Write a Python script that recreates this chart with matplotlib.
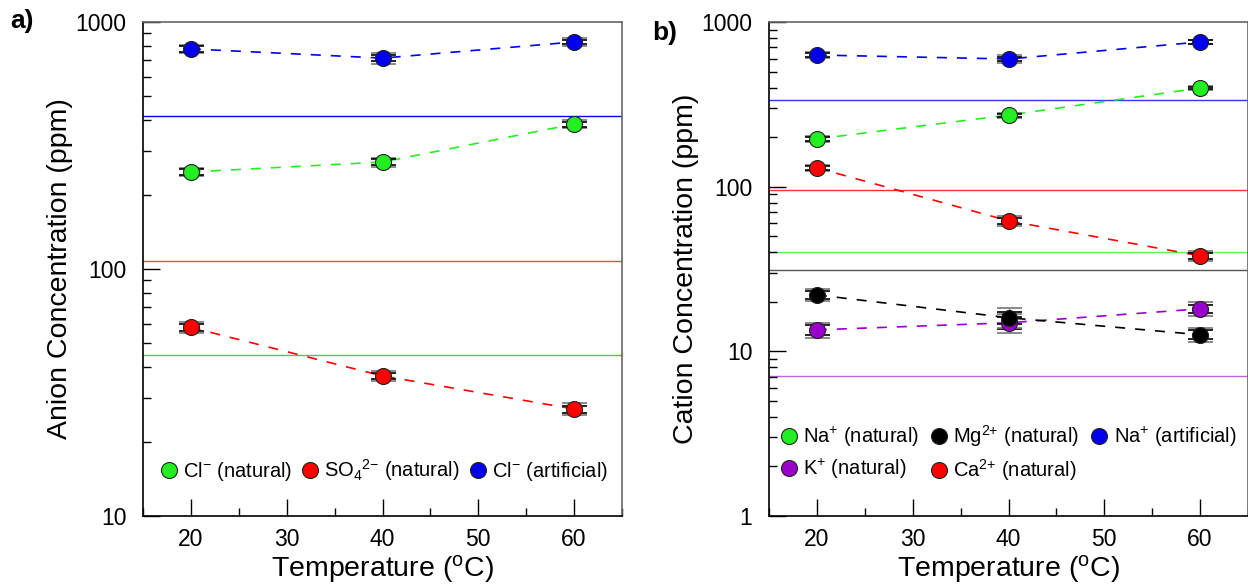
import matplotlib.pyplot as plt
from matplotlib.ticker import LogLocator, NullFormatter, MultipleLocator, FixedLocator

plt.rcParams['font.family'] = ['Liberation Sans', 'DejaVu Sans']
plt.rcParams['mathtext.fontset'] = 'custom'
plt.rcParams['mathtext.rm'] = 'Liberation Sans'
plt.rcParams['mathtext.it'] = 'Liberation Sans'
plt.rcParams['mathtext.default'] = 'rm'

temps = [20, 40, 60]

# panel a - anions
cl_nat = [247, 271, 386]
cl_nat_err = [6, 7, 9]
so4_nat = [58, 36.9, 27.1]
so4_nat_err = [1.8, 1.0, 0.9]
cl_art = [778, 714, 830]
cl_art_err = [20, 22, 18]
ref_a = [416, 108, 45]   # blue, red, green reference lines

# panel b - cations
na_nat = [195, 272, 397]
na_nat_err = [5, 6, 8]
k_nat = [13.5, 14.9, 18.1]
k_nat_err = [0.9, 1.2, 1.1]
mg_nat = [22, 16, 12.6]
mg_nat_err = [1.2, 1.4, 0.8]
ca_nat = [130, 62, 38]
ca_nat_err = [3.5, 2.5, 1.5]
na_art = [630, 596, 756]
na_art_err = [18, 20, 16]
ref_b = [336, 95.5, 40, 31.2, 7.1]  # blue, red, green, black, purple

GREEN = '#22ee22'
RED = '#ff0000'
BLUE = '#0000ee'
BLACK = '#000000'
PURPLE = '#9900cc'

fig = plt.figure(figsize=(12.48, 5.86), dpi=100)
ax1 = fig.add_axes([0.1146, 0.1195, 0.3838, 0.843])
ax2 = fig.add_axes([0.6162, 0.1195, 0.3838, 0.843])


def series(ax, y, err, color, label):
    ax.errorbar(temps, y, yerr=[e * 1.6 for e in err], fmt='none', ecolor='#777777',
                elinewidth=1, capsize=9, capthick=1.2, zorder=3)
    ax.errorbar(temps, y, yerr=err, fmt='none', ecolor='black',
                elinewidth=1, capsize=9, capthick=1.2, zorder=3)
    ax.plot(temps, y, ls=(0, (6, 6)), color=color, lw=1.2, zorder=2)
    ax.plot(temps, y, 'o', ms=11.5, mfc=color, mec='#222222', mew=0.8,
            ls='none', label=label, zorder=4)


def style(ax, ymin):
    ax.set_yscale('log')
    ax.set_ylim(ymin, 1000)
    ax.set_xlim(15, 65)
    ax.xaxis.set_major_locator(FixedLocator([20, 30, 40, 50, 60]))
    ax.xaxis.set_minor_locator(MultipleLocator(5))
    ax.yaxis.set_major_locator(LogLocator(base=10, numticks=10))
    ax.yaxis.set_minor_locator(LogLocator(base=10, subs=range(2, 10), numticks=10))
    ax.yaxis.set_minor_formatter(NullFormatter())
    ax.tick_params(which='major', direction='in', length=12, width=1, labelsize=16.5, pad=9,
                   top=False, right=False)
    ax.tick_params(which='minor', direction='in', length=6, width=1, top=False, right=False)
    ax.tick_params(axis='y', pad=12)
    for s in ['top', 'right']:
        ax.spines[s].set_color('#666666')
        ax.spines[s].set_linewidth(1.2)
    for s in ['left', 'bottom']:
        ax.spines[s].set_linewidth(1.2)
    ax.set_xlabel(r'Temperature ($^{\rm o}$C)', fontsize=20.5, labelpad=1)


# panel a
for v, c in zip(ref_a, [BLUE, '#ff4444', '#33dd33']):
    ax1.axhline(v, color=c, lw=1, zorder=1)
series(ax1, cl_nat, cl_nat_err, GREEN, r'Cl$^{-}$ (natural)')
series(ax1, so4_nat, so4_nat_err, RED, r'SO$_4$$^{2{-}}$ (natural)')
series(ax1, cl_art, cl_art_err, BLUE, r'Cl$^{-}$ (artificial)')
style(ax1, 10)
ax1.set_yticks([10, 100, 1000])
ax1.set_yticklabels(['10', '100', '1000'])
ax1.set_ylabel('Anion Concentration (ppm)', fontsize=20.5, labelpad=2)
ax1.legend(loc='lower center', bbox_to_anchor=(0.5, 0.05), ncol=3, frameon=False,
           fontsize=14.5, handletextpad=0.1, columnspacing=0.3, borderaxespad=0,
           handlelength=1.2)
fig.text(0.008, 0.952, 'a)', fontsize=19, fontweight='bold')

# panel b
for v, c in zip(ref_b, ['#3333ff', '#ff3333', '#66ee66', '#555555', '#bb66dd']):
    ax2.axhline(v, color=c, lw=1, zorder=1)
series(ax2, na_nat, na_nat_err, GREEN, r'Na$^{+}$ (natural)')
series(ax2, k_nat, k_nat_err, PURPLE, r'K$^{+}$ (natural)')
series(ax2, mg_nat, mg_nat_err, BLACK, r'Mg$^{2{+}}$ (natural)')
series(ax2, ca_nat, ca_nat_err, RED, r'Ca$^{2{+}}$ (natural)')
series(ax2, na_art, na_art_err, BLUE, r'Na$^{+}$ (artificial)')
style(ax2, 1)
ax2.set_yticks([1, 10, 100, 1000])
ax2.set_yticklabels(['1', '10', '100', '1000'])
ax2.set_ylabel('Cation Concentration (ppm)', fontsize=20.5, labelpad=2)
ax2.legend(loc='lower left', bbox_to_anchor=(0.0, 0.05), ncol=3, frameon=False,
           fontsize=14.5, handletextpad=0.1, columnspacing=0.4, borderaxespad=0,
           handlelength=1.2, labelspacing=0.4)
fig.text(0.523, 0.932, 'b)', fontsize=19, fontweight='bold')

fig.savefig('out.png', dpi=100)
